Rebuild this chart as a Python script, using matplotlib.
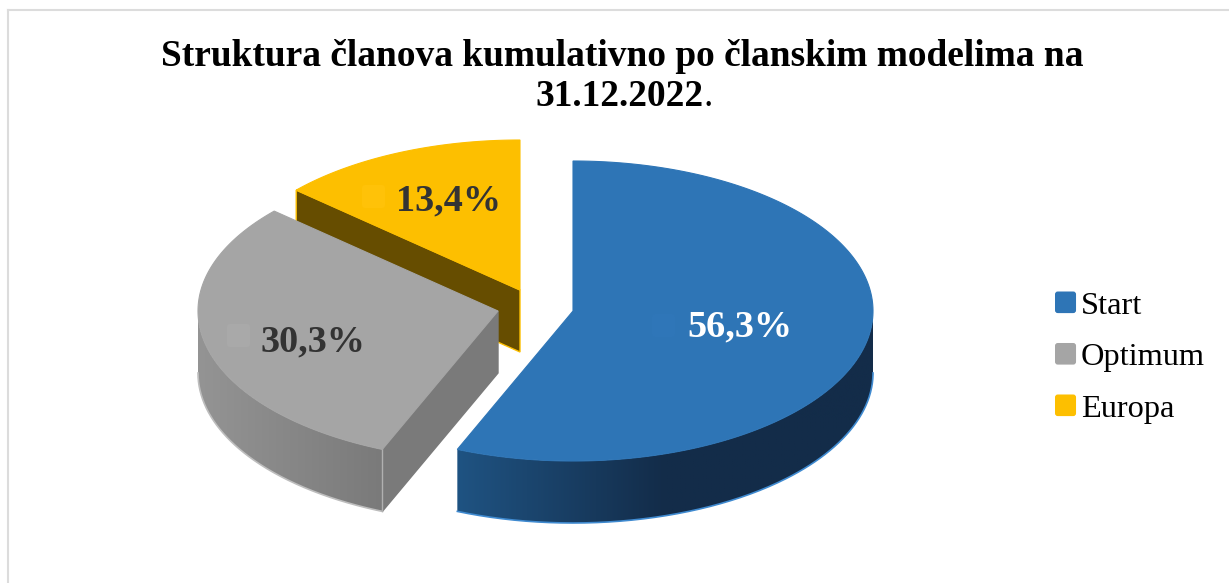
import matplotlib
matplotlib.use("Agg")
import matplotlib.pyplot as plt
import numpy as np
from matplotlib.colors import LinearSegmentedColormap
from matplotlib.legend_handler import HandlerPatch
from matplotlib.patches import FancyBboxPatch, Patch, Polygon

labels = ["Start", "Optimum", "Europa"]
shares = [56.3, 30.3, 13.4]
share_labels = ["56,3%", "30,3%", "13,4%"]

colors = ["#2e75b6", "#a5a5a5", "#fdbf00"]

plt.rcParams["font.family"] = ["Liberation Serif", "DejaVu Serif"]

# the whole figure is one axes in pixels of the picture, y pointing down
fig = plt.figure(figsize=(12.29, 5.83), dpi=100)
ax = fig.add_axes([0, 0, 1, 1])
ax.set_xlim(0, 1229)
ax.set_ylim(583, 0)
ax.axis("off")

RX = 300
RY = 150
DEPTH = 62
# every slice is pulled out of the pie, so each one has its own centre
centres = {"Start": (573, 311), "Optimum": (498, 311), "Europa": (520, 290)}


def rim(centre, a0, a1):
    # points on the ellipse, angles in degrees clockwise from the top
    t = np.radians(np.linspace(a0, a1, 200))
    return np.column_stack([centre[0] + RX * np.sin(t), centre[1] - RY * np.cos(t)])


def wall(centre, a0, a1, stops, edge):
    top = rim(centre, a0, a1)
    bottom = top[::-1] + [0, DEPTH]
    poly = Polygon(np.vstack([top, bottom]), closed=True, fc="none", ec="none", zorder=z)
    ax.add_patch(poly)
    cmap = LinearSegmentedColormap.from_list("wall", stops)
    xs = np.vstack([top, bottom])[:, 0]
    im = ax.imshow(np.linspace(0, 1, 256).reshape(1, -1), cmap=cmap, aspect="auto", zorder=z,
                   extent=[xs.min(), xs.max(), top[:, 1].min(), bottom[:, 1].max() + 1])
    im.set_clip_path(poly)
    ax.plot(bottom[:, 0], bottom[:, 1], color=edge, lw=1.2, zorder=z + 0.1)


def side(p_outer, p_apex, color, edge):
    pts = [p_apex, p_outer, (p_outer[0], p_outer[1] + DEPTH), (p_apex[0], p_apex[1] + DEPTH)]
    ax.add_patch(Polygon(pts, closed=True, fc=color, ec=edge, lw=1, zorder=z))


def top_face(centre, a0, a1, color):
    pts = np.vstack([[centre], rim(centre, a0, a1)])
    ax.add_patch(Polygon(pts, closed=True, fc=color, ec=color, lw=0.8, zorder=z + 0.2))


def rounded_key(legend, orig_handle, xdescent, ydescent, width, height, fontsize):
    return FancyBboxPatch((-xdescent + 2, -ydescent + 2), width - 4, height - 4,
                          boxstyle="round,pad=2,rounding_size=2")


angles = np.cumsum([0] + shares) * 3.6

# Europa sits at the back
z = 2
c = centres["Europa"]
a0, a1 = angles[2], angles[3]
side(rim(c, a0, a0)[0], c, "#664d00", colors[2])
top_face(c, a0, a1, colors[2])

# Optimum
z = 3
c = centres["Optimum"]
a0, a1 = angles[1], angles[2]
side(rim(c, a0, a0)[0], c, "#7a7a7a", "#7a7a7a")
wall(c, a0, 270, ["#949494", "#7a7a7a"], "#bdbdbd")
corner = rim(c, a0, a0)[0]
ax.plot([corner[0], corner[0]], [corner[1], corner[1] + DEPTH], color="#b0b0b0", lw=1, zorder=z + 0.1)
top_face(c, a0, a1, colors[1])

# Start in front
z = 4
c = centres["Start"]
a0, a1 = angles[0], angles[1]
wall(c, 90, a1, [(0, "#1f5382"), (0.5, "#132c49"), (1, "#132c49")], "#3f8ad0")
top_face(c, a0, a1, colors[0])

ax.set_xlim(0, 1229)
ax.set_ylim(583, 0)

# faint label keys, as the original data labels have them
for (x, y), col in zip([(652, 314), (227, 324), (362, 185)], ["#2f76b8", "#a9a9a9", "#ffc208"]):
    ax.add_patch(FancyBboxPatch((x + 2, y + 2), 19, 19, boxstyle="round,pad=2,rounding_size=3",
                                fc=col, ec="none", zorder=6))

ax.text(740, 327, share_labels[0], color="white", fontsize=27.5, fontweight="bold",
        ha="center", va="center", zorder=7)
ax.text(313, 342, share_labels[1], color="#333333", fontsize=27.5, fontweight="bold",
        ha="center", va="center", zorder=7)
ax.text(449, 201, share_labels[2], color="#333333", fontsize=27.5, fontweight="bold",
        ha="center", va="center", zorder=7)

ax.text(622, 57, "Struktura članova kumulativno po članskim modelima na", color="black",
        fontsize=26.9, fontweight="bold", ha="center", va="center")
ax.text(704, 97, "31.12.2022", color="black", fontsize=26.9, fontweight="bold", ha="right", va="center")
ax.text(703, 97, ".", color="black", fontsize=26.9, ha="left", va="center")

handles = [Patch(fc=col, ec="none", label=lab) for col, lab in zip(colors, labels)]
ax.legend(handles=handles, loc="upper left", bbox_to_anchor=(1055, 291.5), bbox_transform=ax.transData,
          frameon=False, fontsize=23.3, borderpad=0, borderaxespad=0, handlelength=0.65,
          handleheight=0.65, handletextpad=0.15, labelspacing=0.69, labelcolor="black",
          handler_map={Patch: HandlerPatch(patch_func=rounded_key)})

# thin frame of the chart area, only top and left are inside the crop
ax.plot([7.5, 7.5], [583, 9.5], color="#dcdcdc", lw=1.5, zorder=1)
ax.plot([7.5, 1229], [9.5, 9.5], color="#dcdcdc", lw=1.5, zorder=1)

fig.savefig("out.png", dpi=100)
